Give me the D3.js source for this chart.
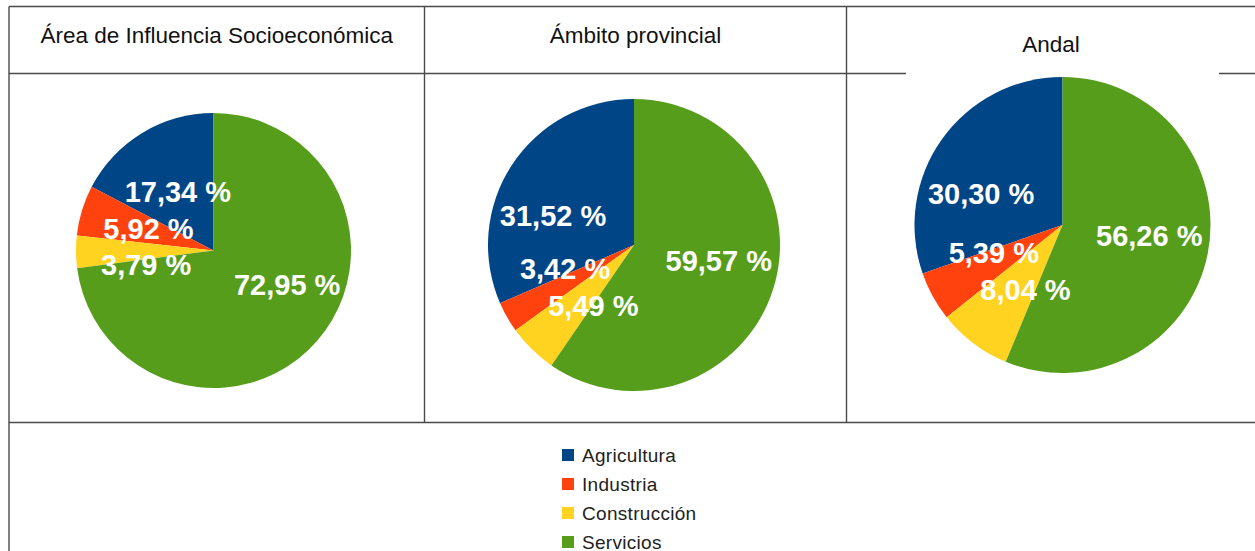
<!DOCTYPE html>
<html>
<head>
<meta charset="utf-8">
<script src="https://cdn.jsdelivr.net/npm/d3@7"></script>
<style>
  html, body { margin: 0; padding: 0; background: #fff; }
  svg { display: block; }
</style>
</head>
<body>
<svg id="chart" width="1255" height="551"></svg>
<script>
const categories = ['Agricultura', 'Industria', 'Construcción', 'Servicios'];
const colors = ['#004586', '#ff420e', '#ffd320', '#579d1c'];
const titles = ['Área de Influencia Socioeconómica', 'Ámbito provincial', 'Andal'];
const areaValues = [17.34, 5.92, 3.79, 72.95];
const provValues = [31.52, 3.42, 5.49, 59.57];
const andalValues = [30.30, 5.39, 8.04, 56.26];
const seriesValues = [areaValues, provValues, andalValues];

const lineColor = '#4a4a4a';
const labelH = 36;
const svg = d3.select('#chart');

// table grid
const gridX = [9, 424.5, 846.5, 1256];
const headerY = 73.5;
const rowY = 422.5;
const grid = svg.append('g').attr('class', 'grid')
  .attr('stroke', lineColor)
  .attr('stroke-width', 1.4)
  .attr('fill', 'none');

grid.append('line').attr('x1', gridX[0]).attr('x2', 1255).attr('y1', 6.5).attr('y2', 6.5);
grid.append('line').attr('x1', gridX[0]).attr('x2', gridX[0]).attr('y1', 6.5).attr('y2', 551);
grid.append('line').attr('x1', gridX[0]).attr('x2', 906).attr('y1', headerY).attr('y2', headerY);
grid.append('line').attr('x1', 1219).attr('x2', 1255).attr('y1', headerY).attr('y2', headerY);
grid.append('line').attr('x1', gridX[0]).attr('x2', 1255).attr('y1', rowY).attr('y2', rowY);
[gridX[1], gridX[2]].forEach((x) => {
  grid.append('line').attr('x1', x).attr('x2', x).attr('y1', 6.5).attr('y2', rowY);
});

// titles
const titleY = [43, 43, 52];
titles.forEach((t, i) => {
  svg.append('text')
    .attr('x', i < 2 ? (gridX[i] + gridX[i + 1]) / 2 : 1051)
    .attr('y', titleY[i])
    .attr('text-anchor', 'middle')
    .attr('font-family', '"Liberation Sans", Arial, sans-serif')
    .attr('font-size', 22.5)
    .attr('fill', '#111')
    .text(t);
});

// pies
const pies = [
  { cx: 213.5, cy: 250.5, r: 137.5 },
  { cx: 634, cy: 245, r: 146 },
  { cx: 1062.5, cy: 225, r: 148 },
];

const pie = d3.pie()
  .sort(null)
  .value(d => d.value)
  .startAngle(2 * Math.PI)
  .endAngle(0);

const fmt = v => `${d3.format('.2f')(v).replace('.', ',')} %`;

function labelPos(d, r) {
  return [Math.sin(d.angle) * r * d.k, -Math.cos(d.angle) * r * d.k];
}

// push overlapping small labels apart along the circle
function relax(arcs, r) {
  const step = 0.5 * Math.PI / 180;
  for (let it = 0; it < 400; it++) {
    let moved = false;
    for (let i = 0; i < arcs.length; i++) {
      for (let j = i + 1; j < arcs.length; j++) {
        const a = arcs[i];
        const b = arcs[j];
        const pa = labelPos(a, r);
        const pb = labelPos(b, r);
        if (Math.abs(pa[0] - pb[0]) < (a.w + b.w) / 2 && Math.abs(pa[1] - pb[1]) < labelH) {
          const lo = a.angle < b.angle ? a : b;
          const hi = lo === a ? b : a;
          if (!lo.fixed) { lo.angle -= step; moved = true; }
          if (!hi.fixed) { hi.angle += step; moved = true; }
        }
      }
    }
    if (!moved) break;
  }
}

pies.forEach((p, i) => {
  const data = categories.map((c, j) => ({ cat: c, value: seriesValues[i][j], color: colors[j] }));
  const arcs = pie(data);
  const arc = d3.arc().innerRadius(0).outerRadius(p.r);
  const g = svg.append('g').attr('transform', `translate(${p.cx},${p.cy})`);

  g.selectAll('path')
    .data(arcs)
    .enter()
    .append('path')
    .attr('d', arc)
    .attr('fill', d => d.data.color);

  const labels = g.selectAll('text')
    .data(arcs)
    .enter()
    .append('text')
    .attr('dy', '0.36em')
    .attr('text-anchor', 'middle')
    .attr('font-family', '"Liberation Sans", Arial, sans-serif')
    .attr('font-weight', 'bold')
    .attr('font-size', 29)
    .attr('fill', '#fff')
    .text(d => fmt(d.data.value));

  labels.each(function (d) {
    d.w = this.getComputedTextLength();
    d.angle = (d.startAngle + d.endAngle) / 2;
    d.k = 0.5;
    d.fixed = d.data.value >= 10;
    if (d.data.value >= 25) {
      // big slices: label sits closer to the horizontal axis
      const h = d.angle < Math.PI ? Math.PI / 2 : 3 * Math.PI / 2;
      d.angle = h + (d.angle - h) * 0.6;
      d.k = 0.59;
    }
  });

  relax(arcs, p.r);
  labels.attr('transform', d => `translate(${labelPos(d, p.r)})`);
});

// legend
const legend = svg.append('g').attr('transform', 'translate(562,455)');
const item = legend.selectAll('g')
  .data(categories)
  .enter()
  .append('g')
  .attr('transform', (d, i) => `translate(0,${i * 29})`);

item.append('rect')
  .attr('x', 0)
  .attr('y', -6)
  .attr('width', 12)
  .attr('height', 12)
  .attr('fill', (d, i) => colors[i]);

item.append('text')
  .attr('x', 20)
  .attr('dy', '0.36em')
  .attr('font-family', '"Liberation Sans", Arial, sans-serif')
  .attr('font-size', 19)
  .attr('letter-spacing', 0.3)
  .attr('fill', '#222')
  .text(d => d);
</script>
</body>
</html>
